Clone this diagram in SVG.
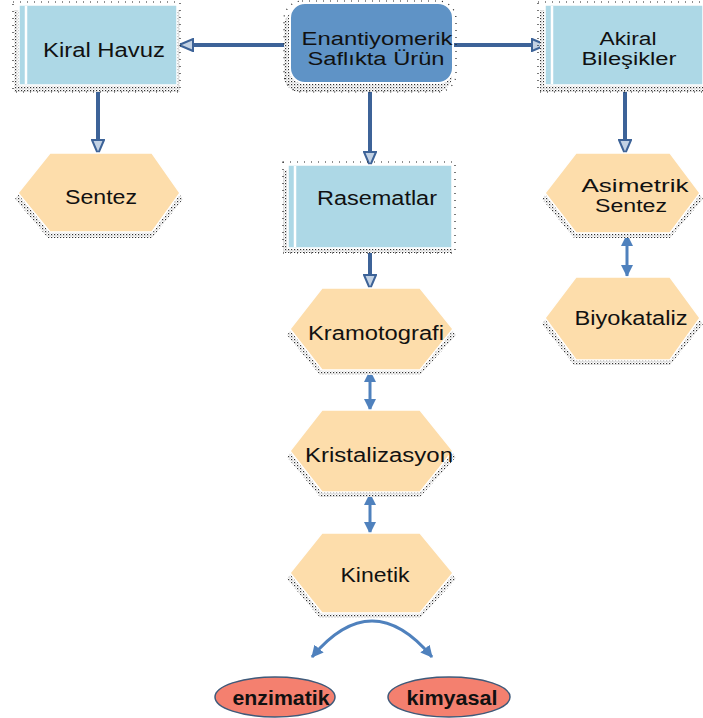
<svg xmlns="http://www.w3.org/2000/svg" width="703" height="718" viewBox="0 0 703 718">
<style>
.t{font-family:"Liberation Sans",Arial,sans-serif;font-size:20px;fill:#111;text-anchor:middle}
.s{font-size:18px}
.b{font-weight:bold}
.box{fill:#ADD8E6;stroke:#fff;stroke-width:1.5}
.strip{stroke:#fff;stroke-width:2.5}
.hex{fill:#FDDDAB;stroke:#fff;stroke-width:1.5}
.shd{fill:url(#dots)}
.sdl{fill:none;stroke:#222;stroke-width:1.2;stroke-dasharray:1 6}
.dk{stroke:#3D6398;stroke-width:4;fill:none}
.lt{stroke:#4F81BD;stroke-width:3;fill:none}
.ell{fill:#F4806F;stroke:#3F5A7A;stroke-width:1.5}
</style>
<defs>
<pattern id="dots" width="3" height="3" patternUnits="userSpaceOnUse">
<rect width="3" height="3" fill="#fff"/>
<rect width="1.2" height="1.2" fill="#333"/>
<rect x="1.5" y="1.5" width="1" height="1" fill="#999"/>
</pattern>
<marker id="ah" viewBox="0 0 16 14" refX="15" refY="7" markerWidth="16" markerHeight="14" markerUnits="userSpaceOnUse" orient="auto">
<path d="M1,1 L15,7 L1,13 Z" fill="#C3D2E4" stroke="#3D6398" stroke-width="2"/>
</marker>
<marker id="al" viewBox="0 0 12 12" refX="11" refY="6" markerWidth="12" markerHeight="12" markerUnits="userSpaceOnUse" orient="auto-start-reverse">
<path d="M0,0 L12,6 L0,12 Z" fill="#4F81BD"/>
</marker>
</defs>
<rect width="703" height="718" fill="#fff"/>

<g id="connectors">
<path class="dk" d="M290,45 L179,45" marker-end="url(#ah)"/>
<path class="dk" d="M453,45 L546,45" marker-end="url(#ah)"/>
<path class="dk" d="M98,85 L98,154" marker-end="url(#ah)"/>
<path class="dk" d="M370,83 L370,166" marker-end="url(#ah)"/>
<path class="dk" d="M625,85 L625,154" marker-end="url(#ah)"/>
<path class="dk" d="M370,248 L370,289" marker-end="url(#ah)"/>
<path class="lt" d="M627,235 L627,276" marker-start="url(#al)" marker-end="url(#al)"/>
<path class="lt" d="M370,371 L370,410" marker-start="url(#al)" marker-end="url(#al)"/>
<path class="lt" d="M370,494 L370,533" marker-start="url(#al)" marker-end="url(#al)"/>
<path class="lt" d="M312,657 Q372,585 432,657" marker-start="url(#al)" marker-end="url(#al)"/>
</g>

<g id="kiral-havuz">
<rect class="shd" x="14" y="10" width="166" height="82"/>
<rect class="sdl" x="13" y="2" width="167" height="90"/>
<rect class="box" x="19" y="5" width="158" height="80"/>
<line class="strip" x1="26" y1="6" x2="26" y2="84"/>
<text class="t" x="104" y="57" textLength="122" lengthAdjust="spacingAndGlyphs">Kiral Havuz</text>
</g>

<g id="enantiyomerik">
<rect class="shd" x="284" y="10" width="168" height="82" rx="16"/>
<rect class="sdl" x="284" y="1" width="172" height="91" rx="18"/>
<rect x="290" y="3" width="163" height="80" rx="15" fill="#5F93C6" stroke="#fff" stroke-width="2"/>
<text class="t s" x="377" y="45" textLength="151" lengthAdjust="spacingAndGlyphs">Enantiyomerik</text>
<text class="t s" x="376" y="65" textLength="137" lengthAdjust="spacingAndGlyphs">Saflıkta Ürün</text>
</g>

<g id="akiral">
<rect class="shd" x="540" y="10" width="163" height="82"/>
<rect class="sdl" x="538" y="2" width="170" height="90"/>
<rect class="box" x="545" y="5" width="158" height="80"/>
<line class="strip" x1="552" y1="6" x2="552" y2="84"/>
<text class="t s" x="628" y="45" textLength="57" lengthAdjust="spacingAndGlyphs">Akiral</text>
<text class="t s" x="629" y="65" textLength="95" lengthAdjust="spacingAndGlyphs">Bileşikler</text>
</g>

<g id="sentez">
<polygon class="shd" points="48,159 152,159 183,199 152,238 48,238 15,199"/>
<polygon class="hex" points="50,153 152,153 180,193 152,232 50,232 18,193"/>
<text class="t" x="101" y="204" textLength="72" lengthAdjust="spacingAndGlyphs">Sentez</text>
</g>

<g id="rasematlar">
<rect class="shd" x="283" y="170" width="169" height="83"/>
<rect class="sdl" x="283" y="162" width="172" height="91"/>
<rect class="box" x="288" y="165" width="164" height="83"/>
<line class="strip" x1="295" y1="166" x2="295" y2="247"/>
<text class="t" x="377" y="205" textLength="120" lengthAdjust="spacingAndGlyphs">Rasematlar</text>
</g>

<g id="kramotografi">
<polygon class="shd" points="320,294 420,294 456,335 420,375 320,375 287,335"/>
<polygon class="hex" points="322,288 420,288 453,329 420,370 322,370 290,329"/>
<text class="t" x="376" y="340" textLength="136" lengthAdjust="spacingAndGlyphs">Kramotografi</text>
</g>

<g id="kristalizasyon">
<polygon class="shd" points="320,416 420,416 456,457 420,497 320,497 287,457"/>
<polygon class="hex" points="322,410 420,410 453,451 420,492 322,492 290,451"/>
<text class="t" x="379" y="462" textLength="148" lengthAdjust="spacingAndGlyphs">Kristalizasyon</text>
</g>

<g id="kinetik">
<polygon class="shd" points="320,539 420,539 456,579 420,618 320,618 287,579"/>
<polygon class="hex" points="322,533 420,533 453,573 420,613 322,613 290,573"/>
<text class="t" x="375" y="582" textLength="69" lengthAdjust="spacingAndGlyphs">Kinetik</text>
</g>

<g id="asimetrik-sentez">
<polygon class="shd" points="574,159 670,159 703,199 670,238 574,238 542,199"/>
<polygon class="hex" points="576,153 670,153 700,193 670,233 576,233 545,193"/>
<text class="t s" x="635" y="192" textLength="107" lengthAdjust="spacingAndGlyphs">Asimetrik</text>
<text class="t s" x="631" y="212" textLength="72" lengthAdjust="spacingAndGlyphs">Sentez</text>
</g>

<g id="biyokataliz">
<polygon class="shd" points="574,283 670,283 703,324 670,365 574,365 542,324"/>
<polygon class="hex" points="576,277 670,277 700,318 670,360 576,360 545,318"/>
<text class="t" x="631" y="325" textLength="113" lengthAdjust="spacingAndGlyphs">Biyokataliz</text>
</g>

<g id="enzimatik">
<ellipse class="ell" cx="275" cy="697" rx="60" ry="20"/>
<text class="t b" x="281" y="705" textLength="97" lengthAdjust="spacingAndGlyphs">enzimatik</text>
</g>

<g id="kimyasal">
<ellipse class="ell" cx="449" cy="697" rx="61" ry="20"/>
<text class="t b" x="452" y="705" textLength="91" lengthAdjust="spacingAndGlyphs">kimyasal</text>
</g>
</svg>
